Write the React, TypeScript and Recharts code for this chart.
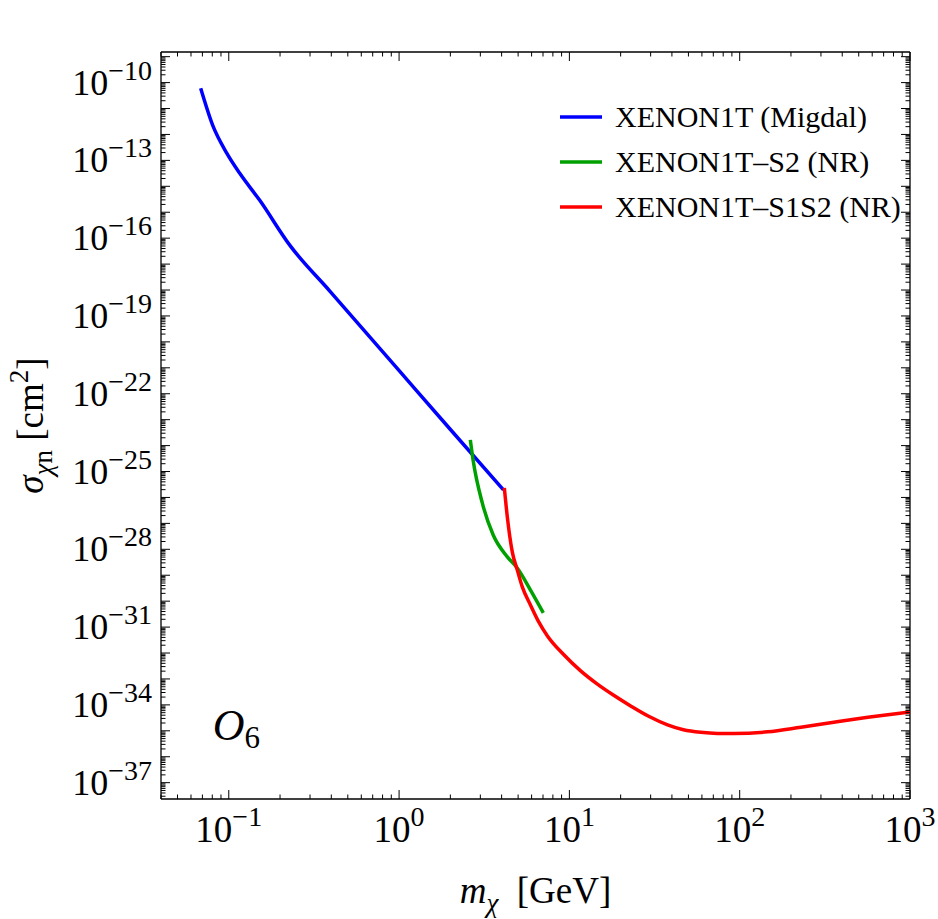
import React from 'react';
import { LineChart, Line, XAxis, YAxis, ReferenceLine, ReferenceDot, Legend } from 'recharts';

// ---- data (mass in GeV, log10 of cross-section in cm^2) ----
const MIGDAL_M = [0.0684, 0.0805, 0.0973, 0.116, 0.152, 0.228, 0.392, 1.01, 1.99, 4.1];
const MIGDAL_LOGSIGMA = [-10.22, -11.65, -12.72, -13.5, -14.54, -16.27, -18.04, -21.14, -23.36, -25.71];

const S2_M = [2.62, 2.72, 3.08, 3.57, 4.32, 4.94, 5.9, 7.03];
const S2_LOGSIGMA = [-23.78, -24.56, -26.21, -27.45, -28.29, -28.72, -29.56, -30.45];

const S1S2_M = [4.15, 4.32, 4.62, 4.94, 5.29, 5.9, 6.58, 7.43, 9.22, 11.6, 14.6, 18.2, 22.9, 29.2, 37.7, 46.7, 59.0, 74.0, 92.2, 146, 229, 357, 566, 1000];
const S1S2_LOGSIGMA = [-25.63, -26.75, -28.1, -28.79, -29.45, -30.14, -30.78, -31.34, -32.05, -32.68, -33.2, -33.63, -34.04, -34.44, -34.77, -34.96, -35.06, -35.1, -35.1, -35.04, -34.86, -34.67, -34.48, -34.27];

const SERIES_NAMES = ['XENON1T (Migdal)', 'XENON1T\u2013S2 (NR)', 'XENON1T\u2013S1S2 (NR)'];
const SERIES_COLORS = ['#0000ff', '#00a000', '#ff0000'];

const X_LABEL_EXPONENTS = [-1, 0, 1, 2, 3];
const Y_LABEL_EXPONENTS = [-37, -34, -31, -28, -25, -22, -19, -16, -13, -10];

const X_MIN = 0.04;
const X_MAX = 1000;
const Y_MIN = Math.pow(10, -37.63);
const Y_MAX = Math.pow(10, -8.82);

const toRows = (ms: number[], ls: number[]) => ms.map((m, i) => ({ m, s: Math.pow(10, ls[i]) }));
const migdalData = toRows(MIGDAL_M, MIGDAL_LOGSIGMA);
const s2Data = toRows(S2_M, S2_LOGSIGMA);
const s1s2Data = toRows(S1S2_M, S1S2_LOGSIGMA);

const logTicks = (min: number, max: number) => {
  const out: number[] = [];
  for (let e = Math.floor(Math.log10(min)); e <= Math.ceil(Math.log10(max)); e++) {
    for (let k = 1; k <= 9; k++) {
      const v = k * Math.pow(10, e);
      if (v >= min * (1 - 1e-9) && v <= max * (1 + 1e-9)) out.push(v);
    }
  }
  return out;
};
const X_TICKS = logTicks(X_MIN, X_MAX);
const Y_TICKS = logTicks(Y_MIN, Y_MAX);

// ---- layout ----
const W = 938;
const H = 919;
const MARGIN = { top: 52, right: 28, bottom: 60, left: 61 };
const Y_AXIS_W = 100;
const X_AXIS_H = 60;
const PLOT_W = W - MARGIN.left - MARGIN.right - Y_AXIS_W;
const PLOT_H = H - MARGIN.top - MARGIN.bottom - X_AXIS_H;
const FONT = "'Liberation Serif', 'Times New Roman', serif";

const expInfo = (v: number) => {
  const e = Math.log10(v);
  const re = Math.round(e);
  return { re, major: Math.abs(e - re) < 1e-6 };
};
const expText = (re: number) => (re < 0 ? '\u2212' + Math.abs(re) : String(re));

const YTick = (props: any) => {
  const { x, y, payload } = props;
  const { re, major } = expInfo(payload.value);
  const len = major ? 9 : 4.5;
  return (
    <g>
      <line x1={x} y1={y} x2={x + len} y2={y} stroke="#000" strokeWidth={1} />
      <line x1={x + PLOT_W} y1={y} x2={x + PLOT_W - len} y2={y} stroke="#000" strokeWidth={1} />
      {major && Y_LABEL_EXPONENTS.includes(re) && (
        <text x={x - 9} y={y + 12} textAnchor="end" fontFamily={FONT} fontSize={36} fill="#000">
          10
          <tspan dy={-15} fontSize={28}>{expText(re)}</tspan>
        </text>
      )}
    </g>
  );
};

const XTick = (props: any) => {
  const { x, y, payload } = props;
  const { re, major } = expInfo(payload.value);
  const len = major ? 9 : 4.5;
  return (
    <g>
      <line x1={x} y1={y} x2={x} y2={y - len} stroke="#000" strokeWidth={1} />
      <line x1={x} y1={y - PLOT_H} x2={x} y2={y - PLOT_H + len} stroke="#000" strokeWidth={1} />
      {major && X_LABEL_EXPONENTS.includes(re) && (
        <text x={x} y={y + 43} textAnchor="middle" fontFamily={FONT} fontSize={37} fill="#000">
          10
          <tspan dy={-16} fontSize={28}>{expText(re)}</tspan>
        </text>
      )}
    </g>
  );
};

const XTitle = (props: any) => {
  const vb = props.viewBox || { x: 161, y: 799, width: 749 };
  return (
    <text x={vb.x + vb.width / 2} y={vb.y + 104} textAnchor="middle" fontFamily={FONT} fontSize={37} fill="#000">
      <tspan fontStyle="italic">m</tspan>
      <tspan fontStyle="italic" fontSize={27} dy={9}>{'\u03c7'}</tspan>
      <tspan dy={-9}>{'\u00a0\u00a0[GeV]'}</tspan>
    </text>
  );
};

const YTitle = (props: any) => {
  const vb = props.viewBox || { x: 61, y: 52, height: 747 };
  const cx = 43;
  const cy = vb.y + vb.height / 2;
  return (
    <text x={cx} y={cy} transform={`rotate(-90 ${cx} ${cy})`} textAnchor="middle" fontFamily={FONT} fontSize={37} fill="#000">
      <tspan fontStyle="italic">{'\u03c3'}</tspan>
      <tspan fontStyle="italic" fontSize={27} dy={9}>{'\u03c7'}</tspan>
      <tspan fontSize={27}>n</tspan>
      <tspan dy={-9}>{'\u00a0[cm'}</tspan>
      <tspan dy={-15} fontSize={27}>2</tspan>
      <tspan dy={15}>]</tspan>
    </text>
  );
};

const O6Label = (props: any) => {
  const vb = props.viewBox || { x: 0, y: 0 };
  return (
    <text x={vb.x} y={vb.y} fontFamily={FONT} fontSize={44} fill="#000">
      <tspan fontStyle="italic">O</tspan>
      <tspan fontSize={31} dy={8}>6</tspan>
    </text>
  );
};

const LegendBox = () => (
  <svg width={360} height={140} style={{ display: 'block', overflow: 'visible' }}>
    {SERIES_NAMES.map((name, i) => (
      <g key={name}>
        <line x1={5} x2={47} y1={22 + 45 * i} y2={22 + 45 * i} stroke={SERIES_COLORS[i]} strokeWidth={3.5} />
        <text x={60} y={32 + 45 * i} fontFamily={FONT} fontSize={30} fill="#000">{name}</text>
      </g>
    ))}
  </svg>
);

export default function App() {
  return (
    <div style={{ position: 'absolute', left: 0, top: 0, width: W, height: H, background: '#fff' }}>
      <LineChart width={W} height={H} margin={MARGIN}>
        <XAxis
          type="number"
          dataKey="m"
          scale="log"
          domain={[X_MIN, X_MAX]}
          allowDataOverflow
          ticks={X_TICKS}
          interval={0}
          tick={XTick}
          tickLine={false}
          tickSize={0}
          tickMargin={0}
          height={X_AXIS_H}
          axisLine={{ stroke: '#000', strokeWidth: 1.3 }}
          label={XTitle}
        />
        <YAxis
          type="number"
          dataKey="s"
          scale="log"
          domain={[Y_MIN, Y_MAX]}
          allowDataOverflow
          ticks={Y_TICKS}
          interval={0}
          tick={YTick}
          tickLine={false}
          tickSize={0}
          tickMargin={0}
          width={Y_AXIS_W}
          axisLine={{ stroke: '#000', strokeWidth: 1.3 }}
          label={YTitle}
        />
        <ReferenceLine y={Y_MAX} stroke="#000" strokeWidth={1.3} ifOverflow="visible" />
        <ReferenceLine x={X_MAX} stroke="#000" strokeWidth={1.3} ifOverflow="visible" />
        <Line data={migdalData} dataKey="s" name={SERIES_NAMES[0]} stroke={SERIES_COLORS[0]} strokeWidth={3.5} dot={false} type="monotone" isAnimationActive={false} />
        <Line data={s2Data} dataKey="s" name={SERIES_NAMES[1]} stroke={SERIES_COLORS[1]} strokeWidth={3.5} dot={false} type="monotone" isAnimationActive={false} />
        <Line data={s1s2Data} dataKey="s" name={SERIES_NAMES[2]} stroke={SERIES_COLORS[2]} strokeWidth={3.5} dot={false} type="monotone" isAnimationActive={false} />
        <ReferenceDot x={0.0805} y={Math.pow(10, -35.35)} r={0} fill="none" stroke="none" label={O6Label} />
        <Legend
          layout="horizontal"
          align="center"
          verticalAlign="middle"
          wrapperStyle={{ left: 555, top: 95, width: 360 }}
          content={() => <LegendBox />}
        />
      </LineChart>
    </div>
  );
}
